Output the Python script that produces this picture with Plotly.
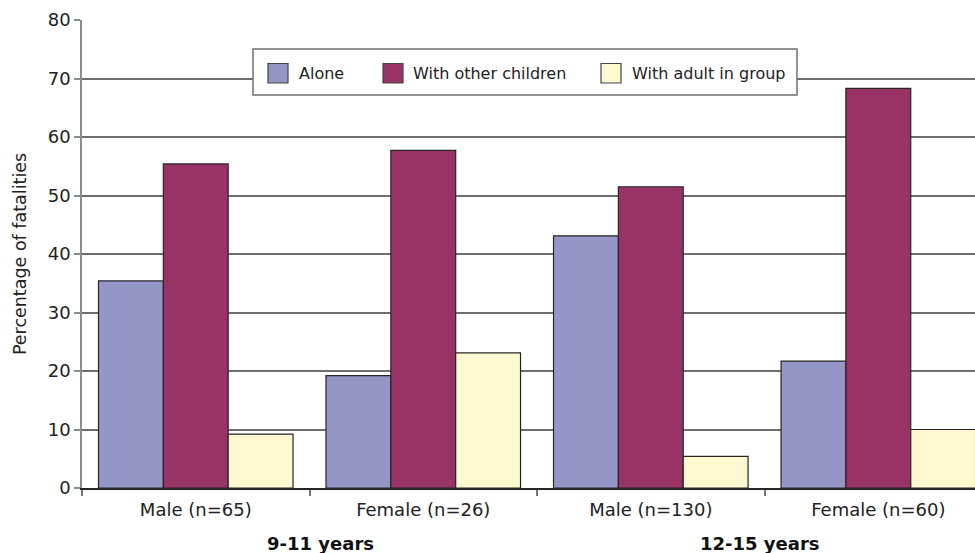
import plotly.graph_objects as go

# Data: percentage of child fatalities by supervision status
categories = ["Male (n=65)", "Female (n=26)", "Male (n=130)", "Female (n=60)"]
age_groups = ["9-11 years", "12-15 years"]
series_names = ["Alone", "With other children", "With adult in group"]
alone = [35.4, 19.2, 43.1, 21.7]
with_children = [55.4, 57.7, 51.5, 68.3]
with_adult = [9.2, 23.1, 5.4, 10.0]
y_ticks = [0, 10, 20, 30, 40, 50, 60, 70, 80]

colors = ["#9595C7", "#993366", "#FCF8CF"]
FONT = "DejaVu Sans"

# Plot area in pixels (used to place the custom legend in paper coordinates)
W, H = 975, 553
ML, MR, MT, MB = 82, 0, 20, 65
PW, PH = W - ML - MR, H - MT - MB


def px_x(px):
    return (px - ML) / PW


def px_y(py):
    return (H - MB - py) / PH


fig = go.Figure()
for name, vals, col in zip(series_names, [alone, with_children, with_adult], colors):
    fig.add_trace(go.Bar(
        x=categories, y=vals, name=name,
        marker=dict(color=col, line=dict(color="#262626", width=1.2)),
        showlegend=False,
    ))

fig.update_layout(
    width=W, height=H,
    margin=dict(l=ML, r=MR, t=MT, b=MB, pad=0),
    paper_bgcolor="white", plot_bgcolor="white",
    barmode="group", bargap=0.145, bargroupgap=0,
    font=dict(family=FONT, size=18, color="#222"),
)

fig.update_xaxes(
    type="category", range=[-0.5, 3.425],
    showgrid=False, showline=True, linecolor="#262626", linewidth=1.5,
    ticks="outside", tickson="boundaries", ticklen=6, tickcolor="#777", tickwidth=1.5,
    ticklabelstandoff=5,
    tickfont=dict(family=FONT, size=18, color="#222"),
    zeroline=False,
)
fig.update_yaxes(
    range=[0, 80], tickvals=y_ticks,
    showgrid=True, gridcolor="#6e6e6e", gridwidth=1.5,
    showline=True, linecolor="#8c8c8c", linewidth=1.5,
    ticks="outside", ticklen=6, tickcolor="#8c8c8c", tickwidth=1.5,
    tickfont=dict(family=FONT, size=18, color="#222"),
    zeroline=False,
    title=dict(text="Percentage of fatalities", font=dict(family=FONT, size=17.5, color="#222"), standoff=17),
)

# Age group labels under the category labels
for label, xpos in zip(age_groups, [0.55, 2.48]):
    fig.add_annotation(
        x=xpos, xref="x", y=px_y(543), yref="paper",
        text=f"<b>{label}</b>", showarrow=False,
        font=dict(family=FONT, size=18, color="#111"),
        xanchor="center", yanchor="middle",
    )

# Custom legend box with square swatches
fig.add_shape(
    type="rect", xref="paper", yref="paper",
    x0=px_x(253), x1=px_x(797), y0=px_y(95), y1=px_y(49),
    fillcolor="white", line=dict(color="#707070", width=1.5), layer="above",
)
swatch_left = [268, 383, 601]
text_left = [297, 411, 630]
for name, col, sx, tx in zip(series_names, colors, swatch_left, text_left):
    fig.add_shape(
        type="rect", xref="paper", yref="paper",
        x0=px_x(sx), x1=px_x(sx + 20), y0=px_y(83), y1=px_y(63.5),
        fillcolor=col, line=dict(color="#444", width=1.2), layer="above",
    )
    fig.add_annotation(
        x=px_x(tx), xref="paper", y=px_y(73), yref="paper",
        text=name, showarrow=False, xanchor="left", yanchor="middle",
        font=dict(family=FONT, size=16, color="#222"),
    )

fig.write_html("out.html")
